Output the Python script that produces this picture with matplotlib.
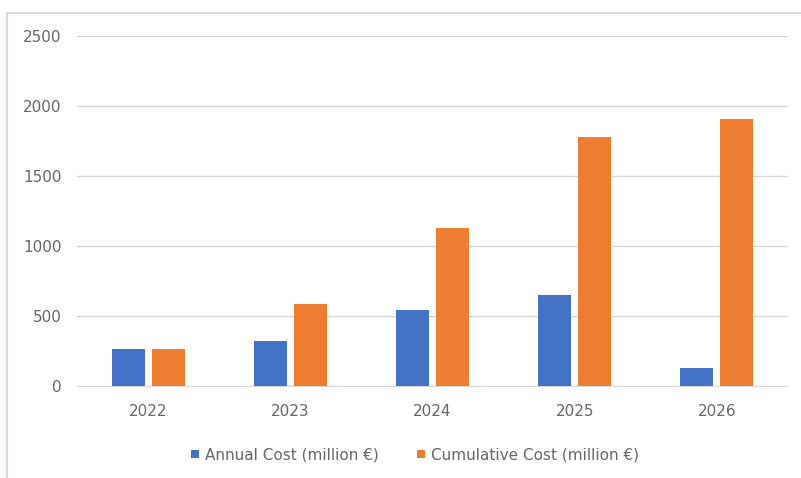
import matplotlib.pyplot as plt
from matplotlib.patches import Rectangle
import numpy as np

years = ['2022', '2023', '2024', '2025', '2026']
annual = [265, 320, 545, 650, 130]
cumulative = [265, 585, 1130, 1780, 1910]

blue = '#4472C4'
orange = '#ED7D31'
txt = '#666666'

fig = plt.figure(figsize=(8.01, 4.78), dpi=100)
ax = fig.add_axes([77/801, 1 - 386/478, 711/801, 350/478])

# chart area border (cropped on right/bottom)
fig.patches.append(Rectangle((7/801, -0.1), 1.2, 1 - 13/478 + 0.1, transform=fig.transFigure,
                             fill=False, edgecolor='#d9d9d9', linewidth=1.5))

x = np.arange(len(years))
w = 0.232
gap = 0.05
ax.bar(x - (w + gap) / 2, annual, width=w, color=blue, label='Annual Cost (million €)', zorder=3)
ax.bar(x + (w + gap) / 2, cumulative, width=w, color=orange, label='Cumulative Cost (million €)', zorder=3)

ax.set_xlim(-0.5, len(years) - 0.5)
ax.set_ylim(0, 2500)
ax.set_yticks(range(0, 2501, 500))
ax.set_xticks(x)
ax.set_xticklabels(years)
ax.grid(axis='y', color='#d9d9d9', linewidth=1, zorder=0)
for s in ['top', 'right', 'left']:
    ax.spines[s].set_visible(False)
ax.spines['bottom'].set_color('#d9d9d9')
ax.tick_params(axis='both', length=0, colors=txt, labelsize=11)
ax.tick_params(axis='y', pad=11)
ax.tick_params(axis='x', pad=13)

fig.legend(loc='center', bbox_to_anchor=(415/801, 1 - 455/478), ncol=2, frameon=False,
           fontsize=11, labelcolor=txt, handlelength=0.5, handleheight=0.5,
           handletextpad=0.4, columnspacing=2.5)

fig.savefig('out.png', dpi=100, facecolor='white')
